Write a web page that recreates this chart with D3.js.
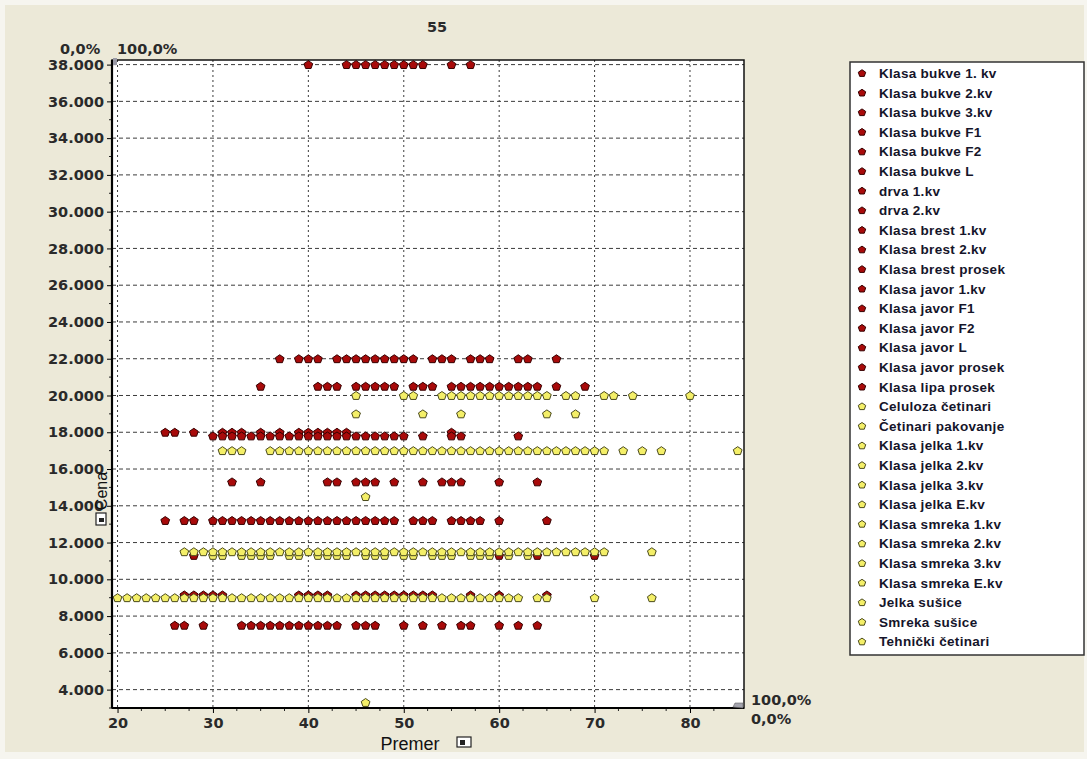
<!DOCTYPE html>
<html>
<head>
<meta charset="utf-8">
<script src="https://cdn.jsdelivr.net/npm/d3@7"></script>
<style>
html,body{margin:0;padding:0;background:#fff;}
svg{display:block;}
</style>
</head>
<body>
<svg id="chart" width="1087" height="759"></svg>
<script>
// ---------- DATA ----------
const chartTitle = "55";
const xTicks = [20, 30, 40, 50, 60, 70, 80];
const yTicks = [4000, 6000, 8000, 10000, 12000, 14000, 16000, 18000, 20000, 22000, 24000, 26000, 28000, 30000, 32000, 34000, 36000, 38000];

const seriesNames = [
  "Klasa bukve 1. kv", "Klasa bukve 2.kv", "Klasa bukve 3.kv", "Klasa bukve F1", "Klasa bukve F2",
  "Klasa bukve L", "drva 1.kv", "drva 2.kv", "Klasa brest 1.kv", "Klasa brest 2.kv",
  "Klasa brest prosek", "Klasa javor 1.kv", "Klasa javor F1", "Klasa javor F2", "Klasa javor L",
  "Klasa javor prosek", "Klasa lipa prosek",
  "Celuloza četinari", "Četinari pakovanje", "Klasa jelka 1.kv", "Klasa jelka 2.kv", "Klasa jelka 3.kv",
  "Klasa jelka E.kv", "Klasa smreka 1.kv", "Klasa smreka 2.kv", "Klasa smreka 3.kv", "Klasa smreka E.kv",
  "Jelka sušice", "Smreka sušice", "Tehnički četinari"
];
const seriesGroup = [
  "hard","hard","hard","hard","hard","hard","hard","hard","hard","hard","hard","hard","hard","hard","hard","hard","hard",
  "soft","soft","soft","soft","soft","soft","soft","soft","soft","soft","soft","soft","soft"
];
// price (Cena) of each series
const seriesPrice = [
  38000, 22000, 20500, 18000, 17800, 15300, 13200, 11300, 9150, 7500, null, null, null, null, null, null, null,
  3300, 14500, 20000, 19000, 17000, 11300, 11500, 9000, null, null, null, null, null
];
// diameters (Premer) at which each series has a point
const seriesDiameters = [
  [40,44,45,46,47,48,49,50,51,52,55,57],
  [37,39,40,41,43,44,45,46,47,48,49,50,51,53,54,55,57,58,59,62,63,66],
  [35,41,42,43,45,46,47,48,49,51,52,53,55,56,57,58,59,60,61,62,63,64,66,69],
  [25,26,28,31,32,33,35,37,39,40,41,42,43,44,55],
  [30,31,32,33,34,35,36,37,38,39,40,41,42,43,44,45,46,47,48,49,50,52,55,56,62],
  [32,35,42,43,45,46,47,49,52,54,55,56,60,64],
  [25,27,28,30,31,32,33,34,35,36,37,38,39,40,41,42,43,44,45,46,47,48,49,51,52,53,55,56,57,58,60,65],
  [28,60,64,70],
  [27,28,29,30,31,39,40,41,42,45,46,47,48,49,50,51,52,53,57,60,65],
  [26,27,29,33,34,35,36,37,38,39,40,41,42,43,45,46,47,50,52,54,56,57,60,62,64],
  [],[],[],[],[],[],[],
  [46],
  [46],
  [45,50,51,54,55,56,57,58,59,60,61,62,63,64,65,67,68,71,72,74,80],
  [45,52,56,65,68],
  [31,32,33,36,37,38,39,40,41,42,43,44,45,46,47,48,49,50,51,52,53,54,55,56,57,58,59,60,61,62,63,64,65,66,67,68,69,70,71,73,75,77,85],
  [30,31,33,34,35,36,38,39,41,42,43,44,46,47,48,50,51,53,54,55,57,58,59,61,63],
  [27,28,29,30,31,32,33,34,35,36,37,38,39,40,41,42,43,44,45,46,47,48,49,50,51,52,53,54,55,56,57,58,59,60,61,62,63,64,65,66,67,68,69,70,71,76],
  [20,21,22,23,24,25,26,27,28,29,30,31,32,33,34,35,36,37,38,39,40,41,42,43,44,45,46,47,48,49,50,51,52,53,54,55,56,57,58,59,60,61,62,64,65,70,76],
  [],[],[],[],[]
];

// ---------- STYLE / LAYOUT ----------
const W = 1087, H = 759;
const plot = {left: 112, right: 744, top: 60, bottom: 708};
const groupStyle = {
  hard: {fill: "#a80a0a", stroke: "#360000"},
  soft: {fill: "#f4ef68", stroke: "#4a4a1c"}
};
const tickFont = "'DejaVu Sans', Verdana, sans-serif";
const legendFont = "'Liberation Sans', Arial, sans-serif";

const svg = d3.select("#chart");

// background
svg.append("rect").attr("x",0).attr("y",0).attr("width",W).attr("height",H).attr("fill","#f6f5ef");
svg.append("rect").attr("x",5).attr("y",5).attr("width",W-8).attr("height",H-12).attr("fill","#ece9d8");

const x = d3.scaleLinear().domain([19.42, 85.66]).range([plot.left, plot.right]);
const y = d3.scaleLinear().domain([3000, 38250]).range([plot.bottom, plot.top]);

// plot area
svg.append("rect").attr("x",plot.left).attr("y",plot.top)
  .attr("width",plot.right-plot.left).attr("height",plot.bottom-plot.top).attr("fill","#ffffff");

// grid
const grid = svg.append("g");
grid.selectAll("line.h").data(yTicks).join("line")
  .attr("x1",plot.left).attr("x2",plot.right)
  .attr("y1",d=>y(d)).attr("y2",d=>y(d))
  .attr("stroke","#3c3c3c").attr("stroke-width",1).attr("stroke-dasharray","4,3");
grid.selectAll("line.v").data(xTicks).join("line")
  .attr("y1",plot.top).attr("y2",plot.bottom)
  .attr("x1",d=>x(d)).attr("x2",d=>x(d))
  .attr("stroke","#3c3c3c").attr("stroke-width",1).attr("stroke-dasharray","2,3");

// axes
const yAxis = d3.axisLeft(y).tickValues(yTicks).tickSize(5).tickPadding(3)
  .tickFormat(d => d3.format(",")(d).replace(/,/g, "."));
const gy = svg.append("g").attr("transform",`translate(${plot.left},0)`).call(yAxis);
gy.select(".domain").remove();
gy.selectAll("text").attr("font-family",tickFont).attr("font-size","14.5px").attr("font-weight","bold").attr("fill","#2a2a2a");

const xAxis = d3.axisBottom(x).tickValues(xTicks).tickSize(5).tickPadding(5);
const gx = svg.append("g").attr("transform",`translate(0,${plot.bottom})`).call(xAxis);
gx.select(".domain").remove();
gx.selectAll("text").attr("font-family",tickFont).attr("font-size","14.5px").attr("font-weight","bold").attr("fill","#2a2a2a");

// minor ticks
const xMinor = d3.range(22.5, 85, 2.5).filter(v => !xTicks.includes(v));
svg.append("g").selectAll("line").data(xMinor).join("line")
  .attr("x1",d=>x(d)).attr("x2",d=>x(d)).attr("y1",plot.bottom).attr("y2",plot.bottom+3)
  .attr("stroke","#222");
const yMinor = d3.range(3000, 38001, 1000).filter(v => !yTicks.includes(v));
svg.append("g").selectAll("line").data(yMinor).join("line")
  .attr("y1",d=>y(d)).attr("y2",d=>y(d)).attr("x1",plot.left-3).attr("x2",plot.left)
  .attr("stroke","#222");

// frame
svg.append("rect").attr("x",plot.left).attr("y",plot.top)
  .attr("width",plot.right-plot.left).attr("height",plot.bottom-plot.top)
  .attr("fill","none").attr("stroke","#111").attr("stroke-width",1.5);
svg.append("line").attr("x1",plot.left).attr("x2",plot.left).attr("y1",plot.top).attr("y2",plot.bottom)
  .attr("stroke","#000").attr("stroke-width",2.2);
svg.append("line").attr("x1",plot.left).attr("x2",plot.right).attr("y1",plot.bottom).attr("y2",plot.bottom)
  .attr("stroke","#000").attr("stroke-width",2.2);

// small handles
svg.append("rect").attr("x",plot.left+1).attr("y",plot.top-2).attr("width",4).attr("height",7).attr("fill","#9a9aa6");
svg.append("path").attr("d",`M${plot.right-11},${plot.bottom-1} l2,-4 h8 v5 z`).attr("fill","#a4a4ae").attr("stroke","#666").attr("stroke-width",0.6);

// pentagon symbol
const pentagon = {
  draw(ctx, size) {
    const r = Math.sqrt(size / 2.3776);
    for (let i = 0; i < 5; i++) {
      const a = -Math.PI/2 + i * 2*Math.PI/5;
      const px = r*Math.cos(a), py = r*Math.sin(a)*0.95 + 0.4;
      if (i === 0) ctx.moveTo(px, py); else ctx.lineTo(px, py);
    }
    ctx.closePath();
  }
};
const sym = d3.symbol().type(pentagon).size(2.3776*4.6*4.6);
const symSmall = d3.symbol().type(pentagon).size(2.3776*3.9*3.9);

// points
const series = seriesNames.map((name,i)=>({name, group: seriesGroup[i], price: seriesPrice[i], d: seriesDiameters[i]}));
const drawOrder = series.filter(s=>s.group==="hard").concat(series.filter(s=>s.group==="soft"));
const pts = svg.append("g");
drawOrder.forEach(s => {
  if (s.price == null) return;
  const st = groupStyle[s.group];
  pts.append("g").selectAll("path").data(s.d).join("path")
    .attr("d", sym)
    .attr("transform", d => `translate(${x(d)},${y(s.price)})`)
    .attr("fill", st.fill).attr("stroke", st.stroke).attr("stroke-width", 1);
});

// texts
svg.append("text").attr("x",437).attr("y",32).attr("text-anchor","middle")
  .attr("font-family",tickFont).attr("font-size","14.5px").attr("font-weight","bold").attr("fill","#2a2a2a").text(chartTitle);
const pctStyle = t => t.attr("font-family",tickFont).attr("font-size","14.5px").attr("font-weight","bold").attr("fill","#2a2a2a");
pctStyle(svg.append("text").attr("x",60).attr("y",54).text("0,0%"));
pctStyle(svg.append("text").attr("x",117).attr("y",54).text("100,0%"));
pctStyle(svg.append("text").attr("x",751).attr("y",705).text("100,0%"));
pctStyle(svg.append("text").attr("x",751).attr("y",724).text("0,0%"));

// axis titles
svg.append("text").attr("x",410).attr("y",750).attr("text-anchor","middle")
  .attr("font-family",legendFont).attr("font-size","18px").attr("fill","#111").text("Premer");
const icon = (gx0, gy0) => {
  const g = svg.append("g").attr("transform",`translate(${gx0},${gy0})`);
  g.append("rect").attr("width",14).attr("height",10).attr("fill","#fff").attr("stroke","#222").attr("stroke-width",1.2);
  g.append("rect").attr("x",3).attr("y",3).attr("width",5).attr("height",5).attr("fill","#222");
  return g;
};
icon(457, 737);
const yl = svg.append("g").attr("transform","translate(107,491) rotate(-90)");
yl.append("text").attr("x",0).attr("y",0).attr("text-anchor","middle")
  .attr("font-family",legendFont).attr("font-size","16px").attr("fill","#111").text("Cena");
yl.append("rect").attr("x",-34).attr("y",-11).attr("width",12).attr("height",10).attr("fill","#fff").attr("stroke","#222").attr("stroke-width",1.2);
yl.append("rect").attr("x",-31).attr("y",-8).attr("width",4).attr("height",5).attr("fill","#222");

// legend
const leg = svg.append("g");
leg.append("rect").attr("x",850).attr("y",62).attr("width",234).attr("height",593)
  .attr("fill","#fff").attr("stroke","#333").attr("stroke-width",1.5);
const legY0 = 73, legStep = 19.6;
const li = leg.selectAll("g.item").data(series).join("g")
  .attr("transform",(d,i)=>`translate(0,${legY0 + i*legStep})`);
li.append("path").attr("d", symSmall).attr("transform","translate(862,0)")
  .attr("fill",d=>groupStyle[d.group].fill).attr("stroke",d=>groupStyle[d.group].stroke).attr("stroke-width",1);
li.append("text").attr("x",879).attr("y",5)
  .attr("font-family",legendFont).attr("font-size","13.5px").attr("font-weight","bold")
  .attr("letter-spacing","0.3px").attr("fill","#15152a").text(d=>d.name);
</script>
</body>
</html>
